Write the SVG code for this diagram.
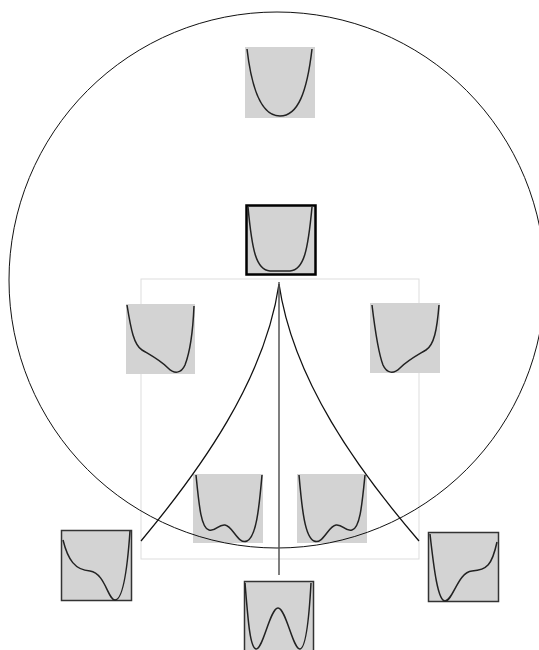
<svg xmlns="http://www.w3.org/2000/svg" width="539" height="650" viewBox="0 0 539 650">
<style>
.box{fill:#d3d3d3;stroke:none}
.bd{fill:#d3d3d3;stroke:#333;stroke-width:1.5}
.bk{fill:#d3d3d3;stroke:#000;stroke-width:2.5}
.crv{fill:none;stroke:#222;stroke-width:1.5}
.edge{fill:none;stroke:#111;stroke-width:1.3}
</style>
<rect width="539" height="650" fill="#fff"/>
<rect x="141" y="279" width="278" height="280" fill="none" stroke="#ddd" stroke-width="1"/>
<g id="n-top"><rect class="box" x="245" y="47" width="70" height="71"/><path class="crv" d="M247,49 C252,92 262,116 280,116 C298,116 307,92 312,49"/></g>
<g id="n-center"><rect class="bk" x="246.5" y="205.5" width="69" height="69"/><path class="crv" d="M248,207 C252,250 256,270 270,271 L290,271 C304,270 308,250 312,207"/></g>
<g id="n-midleft"><rect class="box" x="126" y="304" width="69" height="70"/><path class="crv" d="M127,305 C131,330 134,345 142,350 C152,356 160,360 168,368 C174,374 181,374 185,365 C190,352 193,330 194,306"/></g>
<g id="n-midright"><rect class="box" x="370" y="303" width="70" height="70"/><path class="crv" d="M372,305 C375,330 378,352 383,365 C387,374 394,374 400,368 C408,360 416,356 426,350 C434,345 437,330 439,305"/></g>
<g id="n-innerleft"><rect class="box" x="193" y="474" width="70" height="69"/><path class="crv" d="M196,475 C199,505 201,528 209,530 C216,532 218,524 225,525 C233,526 238,545 247,541 C256,537 259,510 262,475"/></g>
<g id="n-innerright"><rect class="box" x="297" y="474" width="70" height="69"/><path class="crv" d="M299,475 C302,510 305,537 314,541 C323,545 328,526 336,525 C343,524 345,532 352,530 C360,528 362,505 365,475"/></g>
<g id="n-farleft"><rect class="bd" x="61.5" y="530.5" width="70" height="70"/><path class="crv" d="M63,540 C68,560 75,570 90,571 C105,573 108,600 115,600 C124,600 128,560 130,531"/></g>
<g id="n-farright"><rect class="bd" x="428.5" y="532.5" width="70" height="69"/><path class="crv" d="M430,534 C434,570 438,601 445,601 C453,601 458,572 472,571 C487,570 492,565 497,542"/></g>
<g id="n-bottom"><rect class="bd" x="244.5" y="581.5" width="69" height="75"/><path class="crv" d="M245,583 C248,620 250,648 256,649 C263,650 270,608 278,608 C286,608 293,650 300,649 C306,648 309,620 311,583"/></g>
<circle cx="277" cy="280" r="268" fill="none" stroke="#111" stroke-width="1"/>
<g id="connectors">
<path class="edge" d="M279,284 C265,380 200,470 141,541"/>
<path class="edge" d="M279,284 C293,380 358,470 419,541"/>
<line x1="279" y1="282" x2="279" y2="575" stroke="#555" stroke-width="1.5"/>
</g>
</svg>
